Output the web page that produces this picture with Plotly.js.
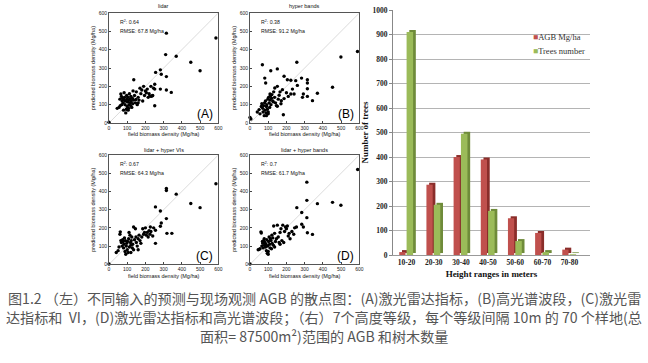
<!DOCTYPE html>
<html>
<head>
<meta charset="utf-8">
<script src="https://cdn.plot.ly/plotly-3.0.1.min.js"></script>
<style>html,body{margin:0;padding:0;background:#fff;}#chart{width:648px;height:363px;}</style>
</head>
<body>
<div id="chart"></div>
<script>
// ---------- data: scatter panels (field vs predicted biomass, Mg/ha) ----------
const fieldA = [0,315,587,311,369,449,500,256,282,287,315,251,282,315,342,251,224,231,238,251,136,45,55,62,60,65,68,72,75,78,80,83,85,88,90,92,95,97,98,100,102,104,105,108,110,112,115,118,120,122,125,128,130,132,135,140,145,148,150,155,160,165,170,175,180,185,190,195,200,205,210,215,220,230,240,245,80,70,108,118,160];
const predA  = [4,490,464,373,364,331,285,276,290,266,253,211,185,180,167,185,148,145,149,94,236,80,85,95,130,158,145,120,135,110,128,165,140,100,120,55,75,150,130,90,115,140,70,125,100,160,130,112,145,120,85,135,105,175,125,150,110,128,170,100,140,125,190,160,180,120,200,150,175,165,185,140,160,200,150,190,70,100,80,95,110];

const fieldB = [0,5,590,499,453,370,343,257,68,114,150,81,86,187,205,224,251,283,315,315,315,260,233,242,224,288,293,315,178,160,172,187,150,128,114,110,136,150,183,40,50,55,62,65,70,72,75,78,80,82,85,88,90,92,95,98,100,102,105,108,110,112,115,118,120,125,130,135,140,145,155,165,170,200,210,90,100];
const predB  = [30,22,390,360,195,162,122,331,318,285,295,245,218,255,236,233,231,245,236,218,187,205,185,158,158,140,158,145,182,151,122,133,91,115,151,158,191,200,45,60,73,50,90,105,80,60,95,40,110,70,120,55,90,100,75,130,60,140,110,85,125,150,100,135,155,120,170,140,110,95,130,170,105,165,145,40,50];

const fieldC = [0,587,315,315,369,449,500,255,282,315,287,282,255,227,318,345,255,40,50,55,60,62,65,68,72,75,78,80,82,85,88,90,92,95,97,100,102,105,108,110,112,115,118,120,122,125,128,130,135,140,145,148,150,155,160,165,170,175,180,185,190,195,200,205,210,215,220,225,230,240,245,160,120,135];
const predC  = [2,442,416,405,385,334,311,315,293,251,227,209,187,205,170,170,115,65,75,95,165,178,130,120,100,135,125,90,110,145,70,130,55,100,115,80,125,65,140,175,95,160,120,105,130,150,90,110,205,135,195,150,120,100,140,160,130,115,150,195,165,175,200,160,175,150,185,165,180,155,200,80,65,80];

const fieldD = [0,591,312,312,370,453,499,257,284,312,284,293,255,315,343,45,50,55,60,62,65,68,70,72,75,78,80,82,85,88,90,92,95,97,100,102,105,108,110,112,115,118,120,122,125,128,130,135,140,145,150,155,160,165,170,175,180,185,190,195,200,205,210,215,220,230,240,245,135,165,100];
const predD  = [2,520,451,351,333,340,324,311,284,256,220,205,205,173,164,80,82,85,178,172,100,125,115,90,130,140,105,120,95,110,75,135,60,100,70,125,150,110,90,140,130,85,160,115,145,105,210,170,125,140,215,150,120,175,195,130,215,120,180,205,195,210,155,170,140,180,165,200,95,110,55];

const panelTitles = ['lidar', 'hyper bands', 'lidar + hyper VIs', 'lidar + hyper bands'];
const panelTags   = ['(A)', '(B)', '(C)', '(D)'];
const r2Values    = ['0.64', '0.38', '0.67', '0.7'];
const rmseValues  = ['67.8', '91.2', '64.3', '61.7'];
const oneToOne    = [0, 600];
const biomassTicks = [0, 100, 200, 300, 400, 500, 600];

// ---------- data: bar chart ----------
const heightBins = ['10-20', '20-30', '30-40', '40-50', '50-60', '60-70', '70-80'];
const agbValues  = [12, 287, 400, 390, 150, 90, 22];
const treeCounts = [910, 205, 495, 180, 57, 12, 3];
const barTicks   = [0, 100, 200, 300, 400, 500, 600, 700, 800, 900, 1000];

// ---------- caption ----------
const captionLines = [
  '图1.2 （左）不同输入的预测与现场观测 AGB 的散点图：(A)激光雷达指标，(B)高光谱波段，(C)激光雷',
  '达指标和  VI，(D)激光雷达指标和高光谱波段；（右）7个高度等级，每个等级间隔 10m 的 70 个样地(总',
  '面积= 87500m²)范围的 AGB 和树木数量'
];

const sans = 'Liberation Sans, Arial, sans-serif';
const serif = 'Liberation Serif, Times New Roman, serif';
const cjk = 'Noto Sans CJK SC, sans-serif';

const W = 648, H = 363;
function xd(a, b) { return [a / W, b / W]; }
function yd(top, bottom) { return [(H - bottom) / H, (H - top) / H]; }

const panels = [
  {x: fieldA, y: predA, xa: 'x',  ya: 'y',  xdom: xd(109, 218.3), ydom: yd(13, 123), titleY: 1.064},
  {x: fieldB, y: predB, xa: 'x2', ya: 'y2', xdom: xd(250, 359.3), ydom: yd(13, 123), titleY: 1.064},
  {x: fieldC, y: predC, xa: 'x3', ya: 'y3', xdom: xd(109, 218.3), ydom: yd(155, 264.3), titleY: 1.045},
  {x: fieldD, y: predD, xa: 'x4', ya: 'y4', xdom: xd(250, 359.3), ydom: yd(155, 264.3), titleY: 1.045}
];

const traces = [];
const layout = {
  width: W, height: H,
  margin: {l: 0, r: 0, t: 0, b: 0},
  paper_bgcolor: '#ffffff', plot_bgcolor: '#ffffff',
  showlegend: false,
  barmode: 'overlay',
  annotations: []
};

panels.forEach((p, i) => {
  traces.push({x: oneToOne, y: oneToOne, xaxis: p.xa, yaxis: p.ya, type: 'scatter', mode: 'lines',
    line: {color: '#d2d2d2', width: 0.8}, hoverinfo: 'skip'});
  traces.push({x: p.x, y: p.y, xaxis: p.xa, yaxis: p.ya, type: 'scatter', mode: 'markers',
    marker: {color: '#000', size: 3.4}, cliponaxis: false});
  const xk = 'xaxis' + (i === 0 ? '' : i + 1);
  const yk = 'yaxis' + (i === 0 ? '' : i + 1);
  const common = {range: [0, 600], tickvals: biomassTicks, ticks: 'inside', ticklen: 2, tickcolor: '#444',
    showline: true, mirror: true, linecolor: '#555', linewidth: 1, showgrid: false, zeroline: false,
    tickfont: {family: sans, size: 5, color: '#222'}, fixedrange: true};
  layout[xk] = Object.assign({}, common, {domain: p.xdom, anchor: p.ya,
    title: {text: 'field biomass density (Mg/ha)', font: {family: sans, size: 5.5, color: '#111'}, standoff: 2}});
  layout[yk] = Object.assign({}, common, {domain: p.ydom, anchor: p.xa,
    title: {text: 'predicted biomass density (Mg/ha)', font: {family: sans, size: 5.5, color: '#111'}, standoff: 2}});
  const axRef = p.xa, ayRef = p.ya;
  layout.annotations.push({xref: axRef + ' domain', yref: ayRef + ' domain', x: 0.5, y: p.titleY,
    text: panelTitles[i], showarrow: false, font: {family: sans, size: 5.5, color: '#111'}, xanchor: 'center', yanchor: 'middle'});
  layout.annotations.push({xref: axRef, yref: ayRef, x: 50, y: 552, text: 'R<sup>2</sup>: ' + r2Values[i],
    showarrow: false, xanchor: 'left', yanchor: 'middle', font: {family: sans, size: 5.2, color: '#111'}});
  layout.annotations.push({xref: axRef, yref: ayRef, x: 50, y: 500, text: 'RMSE: ' + rmseValues[i] + ' Mg/ha',
    showarrow: false, xanchor: 'left', yanchor: 'middle', font: {family: sans, size: 5.2, color: '#111'}});
  layout.annotations.push({xref: axRef, yref: ayRef, x: 525, y: 48, text: panelTags[i],
    showarrow: false, xanchor: 'center', yanchor: 'middle', font: {family: sans, size: 12, color: '#000'}});
});

// ---------- bar chart (pseudo-3D: dark side face behind the front face) ----------
const barX = 'x5', barY = 'y5';
traces.push({type: 'bar', x: heightBins, y: agbValues, base: 8, offset: -0.17, width: 0.23,
  marker: {color: '#8a2d2a'}, xaxis: barX, yaxis: barY, hoverinfo: 'skip'});
traces.push({type: 'bar', x: heightBins, y: agbValues, offset: -0.27, width: 0.23, name: 'AGB Mg/ha',
  marker: {color: '#c0504d'}, xaxis: barX, yaxis: barY});
traces.push({type: 'bar', x: heightBins, y: treeCounts, base: 8, offset: 0.1, width: 0.24,
  marker: {color: '#6f8b3a'}, xaxis: barX, yaxis: barY, hoverinfo: 'skip'});
traces.push({type: 'bar', x: heightBins, y: treeCounts, offset: 0.0, width: 0.24, name: 'Trees number',
  marker: {color: '#9bbb59'}, xaxis: barX, yaxis: barY});

layout.xaxis5 = {domain: xd(393, 590), anchor: barY, type: 'category', range: [-0.5, 6.75],
  showline: true, linecolor: '#999', ticks: '', showgrid: false, zeroline: false, fixedrange: true,
  tickfont: {family: serif, size: 7.5, color: '#222', weight: 700},
  title: {text: 'Height ranges in meters', font: {family: serif, size: 9, color: '#111', weight: 700}, standoff: 4}};
layout.yaxis5 = {domain: yd(10, 255), anchor: barX, range: [0, 1000], tickvals: barTicks,
  showline: true, linecolor: '#888', ticks: 'outside', ticklen: 3, tickcolor: '#888',
  showgrid: true, gridcolor: '#b4b4b4', gridwidth: 1, zeroline: false, fixedrange: true,
  tickfont: {family: serif, size: 7.5, color: '#222', weight: 700},
  title: {text: 'Number of trees', font: {family: serif, size: 9, color: '#111', weight: 700}, standoff: 2}};

// legend drawn as text entries
layout.annotations.push({xref: 'paper', yref: 'paper', x: 531 / W, y: (H - 37) / H, xanchor: 'left', yanchor: 'middle',
  showarrow: false, text: '<span style="color:#c0504d">■</span>AGB Mg/ha', font: {family: serif, size: 8.5, color: '#333'}});
layout.annotations.push({xref: 'paper', yref: 'paper', x: 531 / W, y: (H - 51) / H, xanchor: 'left', yanchor: 'middle',
  showarrow: false, text: '<span style="color:#9bbb59">■</span>Trees number', font: {family: serif, size: 8.5, color: '#333'}});

// caption
const capY = [298, 317, 336];
captionLines.forEach((t, i) => {
  layout.annotations.push({xref: 'paper', yref: 'paper', x: 0.5, y: (H - capY[i]) / H, xanchor: 'center', yanchor: 'middle',
    showarrow: false, text: t, font: {family: cjk, size: 14.1, color: '#555'}});
});

Plotly.newPlot('chart', traces, layout, {staticPlot: true, displayModeBar: false});
</script>
</body>
</html>
